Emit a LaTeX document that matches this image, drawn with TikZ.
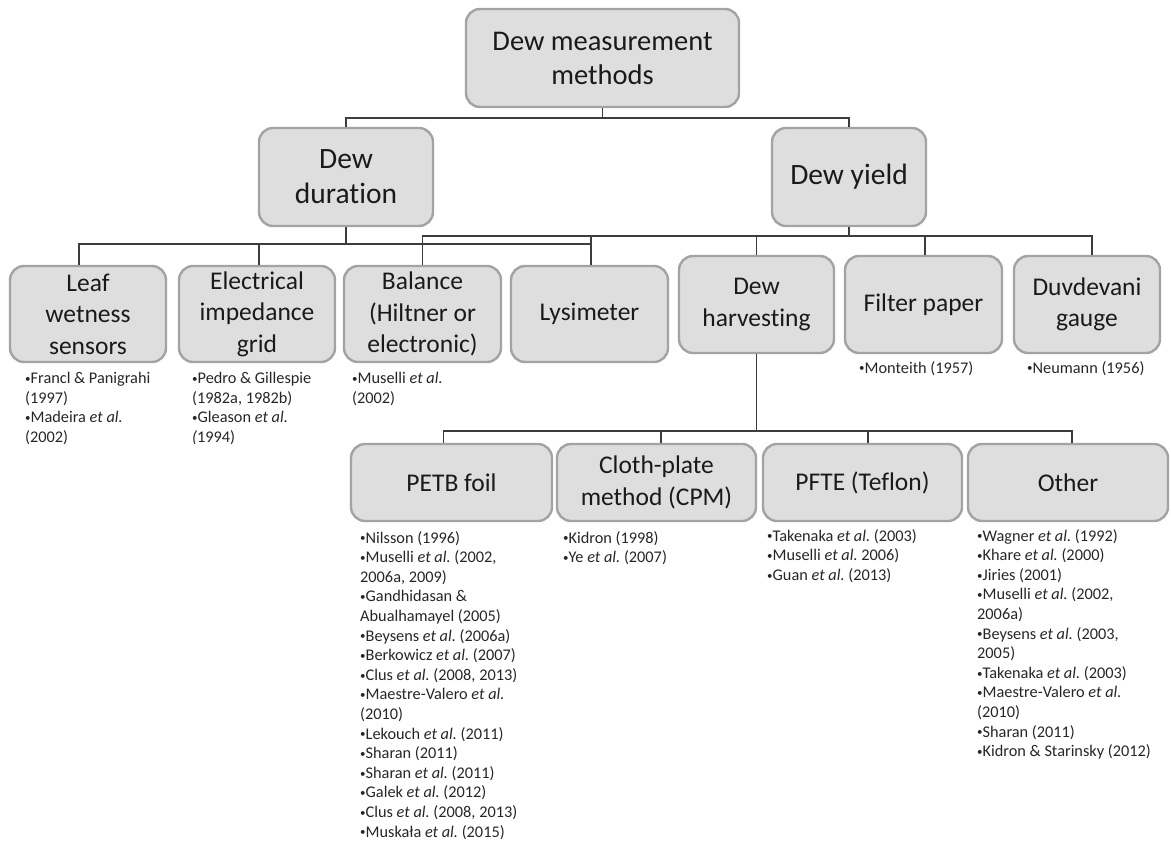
\documentclass[tikz,border=0pt]{standalone}
\usepackage{fontspec}
\setmainfont[Ligatures=NoCommon]{Carlito}
\definecolor{boxfill}{HTML}{DEDEDE}
\definecolor{boxline}{HTML}{A3A3A3}
\definecolor{connc}{HTML}{3C3C3C}
\definecolor{txt}{HTML}{1A1A1A}
\definecolor{reftxt}{HTML}{262626}
\newcommand\etal{\textit{et al.}}
\newcommand\bul{{\fontsize{11}{11}\selectfont\raisebox{0.12em}{•}}}
\begin{document}
\begin{tikzpicture}[x=1pt,y=-1pt,
  box/.style={draw=boxline, fill=boxfill, line width=2.4pt, rounded corners=14pt,
    inner sep=0pt, align=center, text=txt},
  bigbox/.style={box, font=\fontsize{28.5}{34}\selectfont},
  midbox/.style={box, font=\fontsize{25.5}{31.5}\selectfont},
  conn/.style={draw=connc, line width=1.8pt},
  refs/.style={anchor=north west, inner sep=0pt, align=left,
    font=\fontsize{16.3}{19.6}\selectfont, text=reftxt}]
\useasboundingbox (0,0) rectangle (1171,842);
% level 0
\node[bigbox, minimum width=273pt, minimum height=98pt] (root) at (602.5,58) {Dew measurement\\methods};
% level 1
\node[bigbox, font=\fontsize{29.5}{35}\selectfont, minimum width=174pt, minimum height=98pt] (dur) at (346,177) {Dew\\duration};
\node[bigbox, font=\fontsize{29.5}{35}\selectfont, minimum width=154pt, minimum height=98pt] (yield) at (849,177) {Dew yield};
% level 2
\node[midbox, minimum width=156pt, minimum height=96pt] (leaf) at (88,314) {Leaf\\wetness\\sensors};
\node[midbox, minimum width=156pt, minimum height=96pt] (elec) at (257,314) {Electrical\\impedance\\grid};
\node[midbox, minimum width=157pt, minimum height=96pt] (bal) at (422.5,314) {Balance\\(Hiltner or\\electronic)};
\node[midbox, minimum width=157pt, minimum height=96pt] (lys) at (589.5,314) {Lysimeter};
\node[midbox, minimum width=155pt, minimum height=97pt] (harv) at (756.5,304.5) {Dew\\harvesting};
\node[midbox, minimum width=157pt, minimum height=97pt] (filt) at (923.5,304.5) {Filter paper};
\node[midbox, minimum width=146pt, minimum height=97pt] (duv) at (1087,304.5) {Duvdevani\\gauge};
% level 3
\node[midbox, minimum width=201pt, minimum height=77pt] (petb) at (451.5,482.5) {PETB foil};
\node[midbox, minimum width=199pt, minimum height=77pt] (cloth) at (656.5,482.5) {Cloth-plate\\method (CPM)};
\node[midbox, minimum width=199pt, minimum height=77pt] (pfte) at (862.5,482.5) {PFTE (Teflon)};
\node[midbox, minimum width=200pt, minimum height=77pt] (other) at (1068,482.5) {Other};
% connectors
\path (root.south) ++(0,10) coordinate (r1);
\draw[conn] (dur.north) |- (r1) -| (yield.north);
\draw[conn] (root.south) -- (r1);
\path (dur.south) ++(0,17) coordinate (d1);
\draw[conn] (dur.south) -- (d1);
\draw[conn] ([xshift=-9pt]leaf.north) |- (d1) -| ([xshift=1.5pt]lys.north);
\draw[conn] ([xshift=2pt]elec.north) -- ([xshift=2pt]elec.north |- d1);
\path (yield.south) ++(0,9) coordinate (y1);
\draw[conn] (yield.south) -- (y1);
\draw[conn] (bal.north) |- (y1) -| ([xshift=5pt]duv.north);
\draw[conn] ([xshift=1.5pt]lys.north) -- ([xshift=1.5pt]lys.north |- y1);
\draw[conn] (harv.north) -- (harv.north |- y1);
\draw[conn] ([xshift=1.5pt]filt.north) -- ([xshift=1.5pt]filt.north |- y1);
\path (harv.south) ++(0,77) coordinate (h1);
\draw[conn] (harv.south) -- (h1);
\draw[conn] ([xshift=-8pt]petb.north) |- (h1) -| ([xshift=4pt]other.north);
\draw[conn] ([xshift=4.5pt]cloth.north) -- ([xshift=4.5pt]cloth.north |- h1);
\draw[conn] ([xshift=5.5pt]pfte.north) -- ([xshift=5.5pt]pfte.north |- h1);
% references
\node[refs] (leafref) at (25,372) {\bul Francl \& Panigrahi\\(1997)\\\bul Madeira \etal\\(2002)};
\node[refs] (elecref) at (192,372) {\bul Pedro \& Gillespie\\(1982a, 1982b)\\\bul Gleason \etal\\\textit{(}1994)};
\node[refs] (balref) at (352,372) {\bul Muselli \etal\\(2002)};
\node[refs] (filtref) at (859,361) {\bul Monteith (1957)};
\node[refs] (duvref) at (1027,361) {\bul Neumann (1956)};
\node[refs] (petbref) at (360,531) {\bul Nilsson (1996)\\\bul Muselli \etal\ (2002,\\2006a, 2009)\\\bul Gandhidasan \&\\Abualhamayel (2005)\\\bul Beysens \etal\ (2006a)\\\bul Berkowicz \etal\ (2007)\\\bul Clus \etal\ (2008, 2013)\\\bul Maestre-Valero \etal\\(2010)\\\bul Lekouch \etal\ (2011)\\\bul Sharan (2011)\\\bul Sharan \etal\ (2011)\\\bul Galek \etal\ (2012)\\\bul Clus \etal\ (2008, 2013)\\\bul Muskała \etal\ (2015)};
\node[refs] (clothref) at (563,531) {\bul Kidron (1998)\\\bul Ye \etal\ (2007)};
\node[refs] (pfteref) at (767,529) {\bul Takenaka \etal\ (2003)\\\bul Muselli \etal\ 2006)\\\bul Guan \etal\ (2013)};
\node[refs] (otherref) at (977,529) {\bul Wagner \etal\ (1992)\\\bul Khare \etal\ (2000)\\\bul Jiries (2001)\\\bul Muselli \etal\ (2002,\\2006a)\\\bul Beysens \etal\ (2003,\\2005)\\\bul Takenaka \etal\ (2003)\\\bul Maestre-Valero \etal\\(2010)\\\bul Sharan (2011)\\\bul Kidron \& Starinsky (2012)};
\end{tikzpicture}
\end{document}
